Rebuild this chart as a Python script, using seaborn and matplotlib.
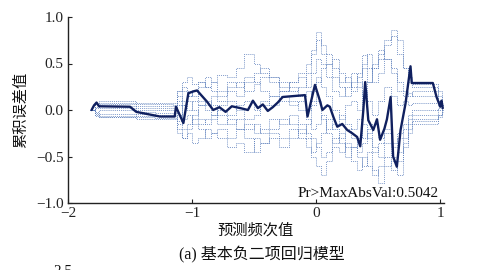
import numpy as np
import pandas as pd
import matplotlib
matplotlib.use("Agg")
import matplotlib.pyplot as plt
import seaborn as sns

sns.set_theme(style="white")
plt.rcParams['font.family'] = ['Liberation Serif', 'Noto Sans CJK SC', 'DejaVu Sans']
plt.rcParams['axes.unicode_minus'] = True

# ---- data ----
sim_x = [-1.82, -1.78, -1.75, -1.5, -1.45, -1.3, -1.15, -1.12, -1.08, -1.04, -1.0, -0.95,
         -0.9, -0.85, -0.8, -0.72, -0.65, -0.58, -0.5, -0.45, -0.38, -0.3, -0.22, -0.15,
         -0.08, -0.04, 0.0, 0.04, 0.08, 0.13, 0.18, 0.23, 0.28, 0.33, 0.37, 0.41,
         0.45, 0.5, 0.55, 0.6, 0.65, 0.7, 0.74, 0.77, 0.95, 0.98, 1.01, 1.03]

sim1 = [0, 0.08, 0.1, 0.1, 0.08, 0.08, 0.08, 0.2, 0.3, 0.35, 0.28, 0.3, 0.25, 0.3, 0.38, 0.35,
        0.45, 0.6, 0.5, 0.4, 0.35, 0.3, 0.2, 0.25, 0.4, 0.6, 0.84, 0.7, 0.6, 0.45, 0.3, 0.35,
        0.2, 0.25, 0.45, 0.3, 0.5, 0.55, 0.7, 0.86, 0.75, 0.45, 0.35, 0.25, 0.25, 0.15, 0.05, 0]
sim2 = [0, -0.05, -0.08, -0.08, -0.1, -0.1, -0.1, -0.2, -0.3, -0.25, -0.35, -0.3, -0.2, -0.25,
        -0.3, -0.4, -0.35, -0.45, -0.3, -0.35, -0.25, -0.3, -0.2, -0.3, -0.4, -0.5, -0.6, -0.7,
        -0.55, -0.4, -0.45, -0.35, -0.4, -0.5, -0.6, -0.45, -0.65, -0.78, -0.6, -0.55, -0.7,
        -0.4, -0.25, -0.12, -0.12, -0.05, 0.02, 0]
sim3 = [0, 0.05, 0.06, 0.06, 0.04, 0.04, 0.04, 0.1, 0.2, 0.15, 0.22, 0.3, 0.25, 0.2, 0.15, 0.25,
        0.3, 0.2, 0.28, 0.35, 0.3, 0.2, 0.25, 0.15, 0.2, 0.1, 0.3, 0.45, 0.5, 0.35, 0.25, 0.15,
        0.3, 0.4, 0.59, 0.45, 0.3, 0.4, 0.55, 0.45, 0.3, 0.2, 0.15, 0.2, 0.2, 0.1, 0.05, 0]
sim4 = [0, -0.03, -0.04, -0.04, -0.06, -0.06, -0.06, -0.12, 0.05, 0.1, 0.0, -0.1, -0.15, -0.1,
        0.0, -0.05, 0.05, 0.1, 0.0, 0.1, 0.05, 0.15, 0.1, 0.0, -0.1, -0.2, -0.15, -0.05, -0.25,
        -0.35, -0.3, -0.2, -0.3, -0.45, -0.35, -0.2, -0.4, -0.5, -0.35, -0.5, -0.45, -0.3,
        -0.15, -0.1, -0.1, -0.05, 0.0, 0]
sim5 = [0, 0.03, 0.02, 0.02, 0.0, 0.0, 0.0, -0.05, 0.1, 0.15, 0.2, 0.1, 0.05, 0.15, 0.1, 0.2,
        0.15, 0.3, 0.4, 0.45, 0.35, 0.25, 0.3, 0.4, 0.5, 0.65, 0.75, 0.6, 0.5, 0.55, 0.4, 0.3,
        0.25, 0.35, 0.5, 0.6, 0.45, 0.6, 0.75, 0.8, 0.6, 0.45, 0.3, 0.28, 0.28, 0.2, 0.08, 0]
sim6 = [0, -0.06, -0.07, -0.07, -0.08, -0.09, -0.09, -0.15, -0.1, -0.05, -0.15, -0.2, -0.3,
        -0.25, -0.2, -0.3, -0.2, -0.15, -0.25, -0.2, -0.1, -0.15, -0.05, -0.15, -0.25, -0.3,
        -0.4, -0.5, -0.45, -0.3, -0.25, -0.4, -0.55, -0.65, -0.5, -0.6, -0.7, -0.6, -0.5,
        -0.65, -0.55, -0.35, -0.2, -0.15, -0.15, -0.08, -0.02, 0]
sim7 = [0, 0.02, 0.04, 0.04, 0.02, 0.02, 0.02, 0.15, 0.05, 0.0, 0.1, 0.05, 0.0, -0.05, 0.05, 0.1,
        0.0, -0.1, -0.05, 0.05, 0.15, 0.1, 0.05, 0.1, 0.0, 0.2, 0.35, 0.25, 0.15, 0.0, -0.1, 0.05,
        0.1, 0.0, 0.2, 0.1, -0.05, 0.1, 0.25, 0.15, 0.05, 0.1, 0.05, 0.08, 0.08, 0.04, 0.0, 0]
sim8 = [0, -0.02, 0.0, 0.0, -0.02, -0.03, -0.03, 0.05, -0.2, -0.15, -0.05, 0.05, 0.1, 0.05,
        -0.05, -0.15, -0.1, -0.2, -0.15, -0.25, -0.2, -0.1, -0.15, -0.25, -0.15, 0.05, 0.1,
        -0.1, -0.2, -0.15, -0.05, -0.15, -0.2, -0.1, -0.3, -0.25, -0.15, -0.3, -0.2, -0.35,
        -0.25, -0.15, -0.05, -0.05, -0.05, 0.0, 0.02, 0]
sim9 = [0, 0.06, 0.08, 0.08, 0.06, 0.06, 0.05, 0.2, 0.25, 0.2, 0.15, 0.25, 0.35, 0.3, 0.2, 0.3,
        0.25, 0.35, 0.3, 0.2, 0.15, 0.2, 0.3, 0.35, 0.25, 0.4, 0.55, 0.5, 0.35, 0.2, 0.15, 0.25,
        0.4, 0.3, 0.15, 0.3, 0.45, 0.65, 0.55, 0.4, 0.2, 0.15, 0.18, 0.15, 0.15, 0.1, 0.05, 0]
sim10 = [0, -0.04, -0.06, -0.06, -0.04, -0.05, -0.05, -0.25, -0.3, -0.2, -0.1, -0.15, -0.1,
         -0.05, -0.15, -0.1, -0.2, -0.3, -0.45, -0.35, -0.3, -0.4, -0.3, -0.2, -0.3, -0.45,
         -0.35, -0.25, -0.1, -0.2, -0.35, -0.5, -0.4, -0.3, -0.15, -0.3, -0.45, -0.35, -0.25,
         -0.4, -0.3, -0.2, -0.1, 0.0, 0.0, 0.02, 0.0, 0]

main_x = [-1.81, -1.79, -1.77, -1.75, -1.5, -1.45, -1.26, -1.14, -1.13, -1.07, -1.03, -0.99,
          -0.96, -0.92, -0.88, -0.83, -0.78, -0.73, -0.68, -0.61, -0.55, -0.51, -0.47, -0.43,
          -0.39, -0.35, -0.31, -0.27, -0.09, -0.07, -0.04, -0.01, 0.03, 0.05, 0.09, 0.11,
          0.14, 0.17, 0.21, 0.25, 0.29, 0.33, 0.355, 0.38, 0.395, 0.42, 0.46, 0.49, 0.515,
          0.55, 0.57, 0.6, 0.62, 0.65, 0.68, 0.72, 0.76, 0.77, 0.94, 0.97, 1.0, 1.01, 1.02]
main_y = [0.0, 0.05, 0.08, 0.04, 0.035, -0.02, -0.07, -0.07, 0.035, -0.14, 0.18, 0.2, 0.21,
          0.15, 0.09, 0.0, 0.03, -0.02, 0.04, 0.02, 0.0, 0.1, 0.02, 0.06, -0.01, 0.03, 0.08,
          0.14, 0.16, -0.07, 0.1, 0.27, 0.1, 0.0, 0.05, 0.035, -0.08, -0.18, -0.15, -0.215,
          -0.25, -0.29, -0.39, 0.0, 0.3, -0.11, -0.215, -0.1, -0.32, -0.2, -0.1, 0.14, -0.5,
          -0.61, -0.215, 0.07, 0.47, 0.29, 0.29, 0.14, 0.035, 0.1, 0.02]

sims = [sim1, sim2, sim3, sim4, sim5, sim6, sim7, sim8, sim9, sim10]
x_ticks = [-2, -1, 0, 1]
y_ticks = [-1.0, -0.5, 0.0, 0.5, 1.0]
p_text = "Pr>MaxAbsVal:0.5042"

rows = []
for i, s in enumerate(sims):
    assert len(s) == len(sim_x), (i, len(s))
    for xv, yv in zip(sim_x, s):
        rows.append({"x": xv, "y": yv, "path": i})
sim_df = pd.DataFrame(rows)
main_df = pd.DataFrame({"x": main_x, "y": main_y})

# ---- figure ----
fig = plt.figure(figsize=(4.78, 2.70), dpi=100)
ax = fig.add_axes([68 / 478, 1 - 203 / 270, (444 - 68) / 478, (203 - 17) / 270])

sns.lineplot(data=sim_df, x="x", y="y", units="path", estimator=None, ax=ax,
             color="#5a7dbb", lw=0.6, linestyle=(0, (1, 1.3)), drawstyle="steps-post",
             legend=False)
sns.lineplot(data=main_df, x="x", y="y", estimator=None, sort=False, ax=ax,
             color="#10205f", lw=1.7, legend=False)

ax.set_xlim(-2, 1.03)
ax.set_ylim(-1.0, 1.0)
ax.set_xticks(x_ticks)
ax.set_xticklabels([str(t).replace('-', '\u2212') for t in x_ticks])
ax.set_yticks(y_ticks)
ax.set_yticklabels([f"{t:.1f}".replace('-', '\u2212') for t in y_ticks])
ax.tick_params(axis='both', direction='in', length=3, width=0.8, labelsize=11,
               colors='#222222', pad=3, left=True, bottom=True)
for side in ['top', 'right']:
    ax.spines[side].set_visible(False)
for side in ['left', 'bottom']:
    ax.spines[side].set_color('#222222')
    ax.spines[side].set_linewidth(1.0)

ax.set_xlabel("预测频次值", fontsize=11, labelpad=2, color='#111111')
ax.set_ylabel("累积误差值", fontsize=11, labelpad=6, color='#111111')
ax.text(0.985, 0.015, p_text, transform=ax.transAxes, ha='right', va='bottom',
        fontsize=11, color='#111111')

fig.text(262 / 478, 1 - 255 / 270, "(a) 基本负二项回归模型", ha='center', va='center',
         fontsize=11.5, color='#111111')
fig.text(72 / 478, 1 - 265 / 270, "2.5", ha='right', va='top', fontsize=11, color='#111111')

fig.savefig("out.png", dpi=100)
